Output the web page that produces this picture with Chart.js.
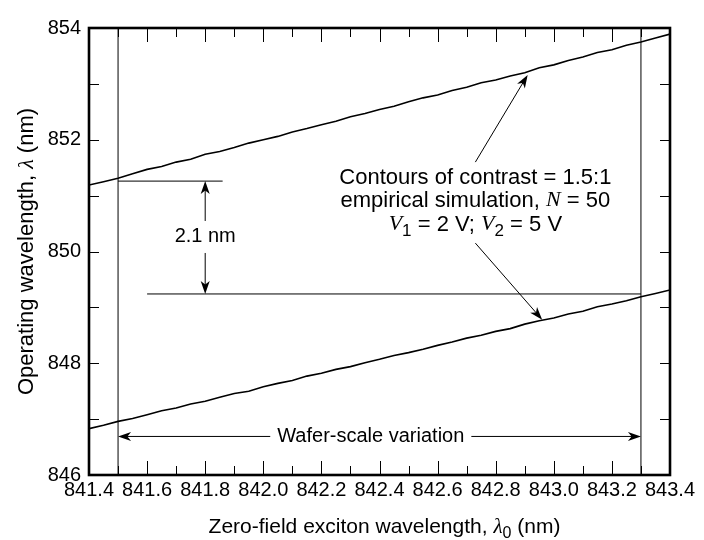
<!DOCTYPE html>
<html>
<head>
<meta charset="utf-8">
<script src="https://cdn.jsdelivr.net/npm/chart.js@4/dist/chart.umd.min.js"></script>
<style>
  body { margin: 0; background: #fff; }
  #wrap { width: 704px; height: 540px; }
</style>
</head>
<body>
<div id="wrap"><canvas id="chart" width="704" height="540"></canvas></div>
<script>
// contour data (nm)
const xValues = [841.40, 841.45, 841.50, 841.55, 841.60, 841.65, 841.70, 841.75, 841.80, 841.85,
  841.90, 841.95, 842.00, 842.05, 842.10, 842.15, 842.20, 842.25, 842.30, 842.35,
  842.40, 842.45, 842.50, 842.55, 842.60, 842.65, 842.70, 842.75, 842.80, 842.85,
  842.90, 842.95, 843.00, 843.05, 843.10, 843.15, 843.20, 843.25, 843.30, 843.35, 843.40];
const upperContour = [851.19, 851.25, 851.31, 851.39, 851.47, 851.52, 851.60, 851.65, 851.74, 851.79,
  851.86, 851.94, 852.00, 852.06, 852.14, 852.20, 852.27, 852.33, 852.41, 852.47,
  852.54, 852.60, 852.68, 852.75, 852.80, 852.88, 852.94, 853.02, 853.07, 853.14,
  853.20, 853.29, 853.34, 853.42, 853.48, 853.56, 853.61, 853.69, 853.75, 853.82, 853.89];
const lowerContour = [846.83, 846.89, 846.96, 847.01, 847.08, 847.15, 847.20, 847.27, 847.32, 847.39,
  847.46, 847.50, 847.58, 847.64, 847.69, 847.77, 847.82, 847.89, 847.94, 848.01,
  848.07, 848.14, 848.19, 848.25, 848.32, 848.38, 848.45, 848.50, 848.57, 848.62,
  848.70, 848.76, 848.81, 848.88, 848.93, 849.01, 849.06, 849.12, 849.19, 849.25, 849.31];

const xRange = [841.4, 843.4];
const yRange = [846, 854];
const waferEdges = [841.5, 843.3];
const offsetLevels = [851.26, 849.24];
const offsetSpans = [[841.5, 841.86], [841.6, 843.3]];

// annotations, in data units
const gapArrowX = 841.8;
const gapLabel = '2.1 nm';
const gapLabelY = 850.26;
const waferArrowY = 846.69;
const waferLabel = 'Wafer-scale variation';
const waferLabelX = 842.37;
const noteX = 842.73;
const noteLineY = [851.32, 850.91, 850.48];
const noteArrows = [[842.73, 851.60, 842.91, 853.16], [842.73, 850.15, 842.96, 848.78]];

const SANS = '"Liberation Sans", Arial, Helvetica, sans-serif';
const SERIF = '"Liberation Serif", "Times New Roman", serif';

function pts(xs, ys) { return xs.map((x, i) => ({x: x, y: ys[i]})); }

function runFont(r, size) {
  if (r.sub) return Math.round(size * 0.75) + 'px ' + SANS;
  if (r.i) return 'italic ' + size + 'px ' + SERIF;
  return size + 'px ' + SANS;
}

function drawRuns(ctx, runs, cx, cy, size) {
  let total = 0;
  runs.forEach(r => { ctx.font = runFont(r, size); r.w = ctx.measureText(r.t).width; total += r.w; });
  let x = cx - total / 2;
  ctx.textAlign = 'left';
  ctx.textBaseline = 'middle';
  runs.forEach(r => {
    ctx.font = runFont(r, size);
    ctx.fillText(r.t, x, cy + (r.sub ? size * 0.3 : 0));
    x += r.w;
  });
}

function arrow(ctx, x1, y1, x2, y2) {
  const a = Math.atan2(y2 - y1, x2 - x1), L = 13, W = 4.5;
  ctx.beginPath();
  ctx.moveTo(x1, y1);
  ctx.lineTo(x2 - Math.cos(a) * 8, y2 - Math.sin(a) * 8);
  ctx.stroke();
  ctx.save();
  ctx.translate(x2, y2);
  ctx.rotate(a);
  ctx.beginPath();
  ctx.moveTo(0, 0);
  ctx.lineTo(-L, -W);
  ctx.lineTo(-L * 0.72, 0);
  ctx.lineTo(-L, W);
  ctx.closePath();
  ctx.fill();
  ctx.restore();
}

const decor = {
  id: 'decor',
  afterDatasetsDraw(chart) {
    const ctx = chart.ctx, a = chart.chartArea;
    const xs = chart.scales.x, ys = chart.scales.y;
    ctx.save();
    ctx.strokeStyle = '#000';
    ctx.fillStyle = '#000';

    // ticks pointing inward on all four sides
    ctx.lineWidth = 1;
    xs.ticks.forEach(t => {
      const px = Math.round(xs.getPixelForValue(t.value)) + 0.5;
      const major = Math.round(t.value * 10) % 2 === 0;
      const len = major ? 14 : 9;
      ctx.beginPath();
      ctx.moveTo(px, a.bottom); ctx.lineTo(px, a.bottom - len);
      ctx.moveTo(px, a.top); ctx.lineTo(px, a.top + len);
      ctx.stroke();
    });
    ys.ticks.forEach(t => {
      const py = Math.round(ys.getPixelForValue(t.value)) + 0.5;
      ctx.beginPath();
      ctx.moveTo(a.left, py); ctx.lineTo(a.left + 10, py);
      ctx.moveTo(a.right, py); ctx.lineTo(a.right - 10, py);
      ctx.stroke();
    });

    // frame
    ctx.lineWidth = 2.6;
    ctx.strokeRect(a.left, a.top, a.right - a.left, a.bottom - a.top);

    ctx.lineWidth = 1;
    // 2.1 nm double arrow
    const gx = xs.getPixelForValue(gapArrowX);
    const gy = ys.getPixelForValue(gapLabelY);
    arrow(ctx, gx, gy - 16, gx, ys.getPixelForValue(offsetLevels[0]));
    arrow(ctx, gx, gy + 16, gx, ys.getPixelForValue(offsetLevels[1]));
    drawRuns(ctx, [{t: gapLabel}], gx, gy, 20);

    // wafer-scale double arrow
    const wy = ys.getPixelForValue(waferArrowY);
    const wx = xs.getPixelForValue(waferLabelX);
    ctx.font = '20px ' + SANS;
    const hw = ctx.measureText(waferLabel).width / 2 + 7;
    arrow(ctx, wx - hw, wy, xs.getPixelForValue(waferEdges[0]), wy);
    arrow(ctx, wx + hw, wy, xs.getPixelForValue(waferEdges[1]), wy);
    drawRuns(ctx, [{t: waferLabel}], wx, wy, 20);

    // note with arrows to both contours
    const nx = xs.getPixelForValue(noteX);
    const noteLines = [
      [{t: 'Contours of contrast = 1.5:1'}],
      [{t: 'empirical simulation, '}, {t: 'N', i: 1}, {t: ' = 50'}],
      [{t: 'V', i: 1}, {t: '1', sub: 1}, {t: ' = 2 V; '}, {t: 'V', i: 1}, {t: '2', sub: 1}, {t: ' = 5 V'}]
    ];
    noteLines.forEach((runs, i) => drawRuns(ctx, runs, nx, ys.getPixelForValue(noteLineY[i]), 22));
    noteArrows.forEach(n => arrow(ctx, xs.getPixelForValue(n[0]), ys.getPixelForValue(n[1]),
      xs.getPixelForValue(n[2]), ys.getPixelForValue(n[3])));

    // axis titles
    drawRuns(ctx, [{t: 'Zero-field exciton wavelength, '}, {t: 'λ', i: 1}, {t: '0', sub: 1}, {t: ' (nm)'}],
      (a.left + a.right) / 2 + 5, 527, 21);
    ctx.translate(27, (a.top + a.bottom) / 2);
    ctx.rotate(-Math.PI / 2);
    drawRuns(ctx, [{t: 'Operating wavelength, '}, {t: 'λ', i: 1}, {t: ' (nm)'}], 0, 0, 22);
    ctx.restore();
  }
};

const lineStyle = {borderColor: '#000', pointRadius: 0, fill: false, tension: 0};

new Chart(document.getElementById('chart'), {
  type: 'line',
  data: {
    datasets: [
      Object.assign({data: pts(xValues, upperContour), borderWidth: 1.6}, lineStyle),
      Object.assign({data: pts(xValues, lowerContour), borderWidth: 1.6}, lineStyle),
      Object.assign({data: [{x: waferEdges[0], y: yRange[0]}, {x: waferEdges[0], y: yRange[1]}], borderWidth: 1}, lineStyle),
      Object.assign({data: [{x: waferEdges[1], y: yRange[0]}, {x: waferEdges[1], y: yRange[1]}], borderWidth: 1}, lineStyle),
      Object.assign({data: [{x: offsetSpans[0][0], y: offsetLevels[0]}, {x: offsetSpans[0][1], y: offsetLevels[0]}], borderWidth: 1}, lineStyle),
      Object.assign({data: [{x: offsetSpans[1][0], y: offsetLevels[1]}, {x: offsetSpans[1][1], y: offsetLevels[1]}], borderWidth: 1}, lineStyle)
    ]
  },
  options: {
    responsive: false,
    animation: false,
    layout: {padding: {left: 0, right: 34, top: 28, bottom: 0}},
    plugins: {legend: {display: false}, tooltip: {enabled: false}},
    scales: {
      x: {
        type: 'linear', min: xRange[0], max: xRange[1],
        grid: {display: false, drawTicks: false},
        border: {display: false},
        ticks: {
          stepSize: 0.1, autoSkip: false, maxRotation: 0, padding: 3, color: '#000',
          font: {family: SANS, size: 20},
          callback: v => Math.round(v * 10) % 2 === 0 ? v.toFixed(1) : ''
        },
        afterFit: s => { s.height = 65; }
      },
      y: {
        type: 'linear', min: yRange[0], max: yRange[1],
        grid: {display: false, drawTicks: false},
        border: {display: false},
        ticks: {
          stepSize: 1, autoSkip: false, padding: 8, color: '#000',
          font: {family: SANS, size: 20},
          callback: v => Math.round(v) % 2 === 0 ? String(Math.round(v)) : ''
        },
        afterFit: s => { s.width = 89; }
      }
    }
  },
  plugins: [decor]
});
</script>
</body>
</html>
